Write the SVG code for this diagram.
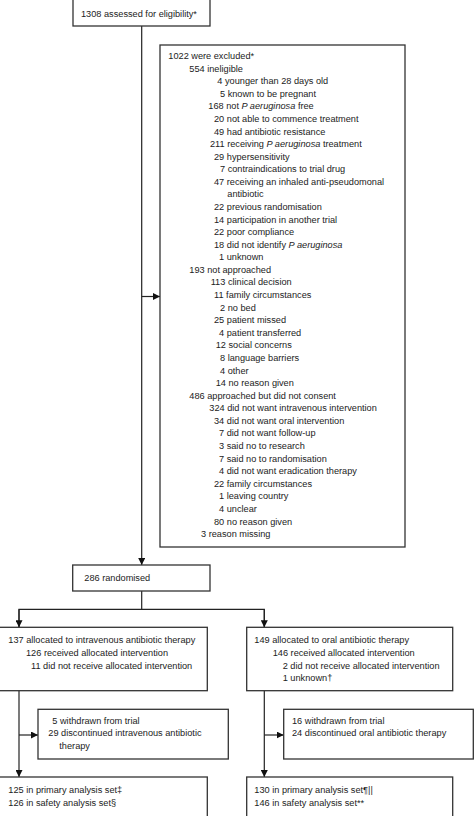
<svg xmlns="http://www.w3.org/2000/svg" width="474" height="816" viewBox="0 0 474 816">
<defs>
<marker id="ah" viewBox="0 0 10 10" refX="10" refY="5" markerWidth="7" markerHeight="7" markerUnits="userSpaceOnUse" orient="auto">
<path d="M0,0 L10,5 L0,10 z" fill="#111"/>
</marker>
<style>
.box{fill:#fff;stroke:#333;stroke-width:1.3}
.ln{fill:none;stroke:#222;stroke-width:1.2}
text{font-family:"Liberation Sans",Arial,sans-serif;font-size:9.2px;fill:#222}
.it{font-style:italic}
</style>
</defs>
<rect width="474" height="816" fill="#fff"/>
<g id="connectors">
<line class="ln" x1="141.7" y1="26" x2="141.7" y2="565" marker-end="url(#ah)"/>
<line class="ln" x1="141.7" y1="296.5" x2="160" y2="296.5" marker-end="url(#ah)"/>
<polyline class="ln" points="141.7,591 141.7,609.3"/>
<polyline class="ln" points="19,627.3 19,609.3 264.3,609.3 264.3,627.3"/>
<line class="ln" x1="19" y1="609.3" x2="19" y2="627.3" marker-end="url(#ah)"/>
<line class="ln" x1="264.3" y1="609.3" x2="264.3" y2="627.3" marker-end="url(#ah)"/>
<line class="ln" x1="19" y1="690.7" x2="19" y2="777" marker-end="url(#ah)"/>
<line class="ln" x1="19" y1="735" x2="38" y2="735" marker-end="url(#ah)"/>
<line class="ln" x1="264.3" y1="690.7" x2="264.3" y2="777" marker-end="url(#ah)"/>
<line class="ln" x1="264.3" y1="735" x2="283.7" y2="735" marker-end="url(#ah)"/>
</g>
<g id="assessed">
<rect class="box" x="73" y="-2" width="137" height="28"/>
<text x="81" y="17">1308 assessed for eligibility*</text>
</g>
<g id="excluded">
<rect class="box" x="160" y="45" width="245" height="502"/>
<text x="168.3" y="59">1022 were excluded*</text>
<text x="189.3" y="71.6">554 ineligible</text>
<text x="217.3" y="84.2">4 younger than 28 days old</text>
<text x="220" y="96.7">5 known to be pregnant</text>
<text x="208.3" y="109.3">168 not <tspan class="it">P aeruginosa</tspan> free</text>
<text x="214" y="121.9">20 not able to commence treatment</text>
<text x="214" y="134.5">49 had antibiotic resistance</text>
<text x="210" y="147.1">211 receiving <tspan class="it">P aeruginosa</tspan> treatment</text>
<text x="214" y="159.6">29 hypersensitivity</text>
<text x="220" y="172.2">7 contraindications to trial drug</text>
<text x="214" y="184.8">47 receiving an inhaled anti-pseudomonal</text>
<text x="227.3" y="197.4">antibiotic</text>
<text x="214" y="210">22 previous randomisation</text>
<text x="214" y="222.5">14 participation in another trial</text>
<text x="214" y="235.1">22 poor compliance</text>
<text x="214" y="247.7">18 did not identify <tspan class="it">P aeruginosa</tspan></text>
<text x="219" y="260.3">1 unknown</text>
<text x="189.3" y="272.9">193 not approached</text>
<text x="210.7" y="285.4">113 clinical decision</text>
<text x="214" y="298">11 family circumstances</text>
<text x="220" y="310.6">2 no bed</text>
<text x="214" y="323.2">25 patient missed</text>
<text x="219" y="335.8">4 patient transferred</text>
<text x="215.7" y="348.3">12 social concerns</text>
<text x="220" y="360.9">8 language barriers</text>
<text x="220" y="373.5">4 other</text>
<text x="215.7" y="386.1">14 no reason given</text>
<text x="189.3" y="398.7">486 approached but did not consent</text>
<text x="209.3" y="411.2">324 did not want intravenous intervention</text>
<text x="214" y="423.8">34 did not want oral intervention</text>
<text x="219" y="436.4">7 did not want follow-up</text>
<text x="219" y="449">3 said no to research</text>
<text x="219" y="461.6">7 said no to randomisation</text>
<text x="219" y="474.1">4 did not want eradication therapy</text>
<text x="214" y="486.7">22 family circumstances</text>
<text x="219" y="499.3">1 leaving country</text>
<text x="219" y="511.9">4 unclear</text>
<text x="214" y="524.5">80 no reason given</text>
<text x="201" y="537">3 reason missing</text>
</g>
<g id="randomised">
<rect class="box" x="72.7" y="565" width="137.3" height="26"/>
<text x="84.3" y="581">286 randomised</text>
</g>
<g id="iv-allocated">
<rect class="box" x="-2" y="627.3" width="209.3" height="63.4"/>
<text x="8.3" y="643">137 allocated to intravenous antibiotic therapy</text>
<text x="26" y="656">126 received allocated intervention</text>
<text x="31" y="668.5">11 did not receive allocated intervention</text>
</g>
<g id="oral-allocated">
<rect class="box" x="246.7" y="627.3" width="206" height="63.4"/>
<text x="254.3" y="643">149 allocated to oral antibiotic therapy</text>
<text x="272.7" y="656">146 received allocated intervention</text>
<text x="282.7" y="668.5">2 did not receive allocated intervention</text>
<text x="282.7" y="681">1 unknown†</text>
</g>
<g id="iv-withdrawn">
<rect class="box" x="38" y="709.3" width="190.3" height="49.7"/>
<text x="52.3" y="723.5">5 withdrawn from trial</text>
<text x="48.3" y="736.2">29 discontinued intravenous antibiotic</text>
<text x="59.3" y="749">therapy</text>
</g>
<g id="oral-withdrawn">
<rect class="box" x="283.7" y="709.3" width="189.6" height="49.7"/>
<text x="292" y="723.5">16 withdrawn from trial</text>
<text x="292" y="736.2">24 discontinued oral antibiotic therapy</text>
</g>
<g id="iv-analysis">
<rect class="box" x="-2" y="777" width="209.3" height="42"/>
<text x="8.3" y="792.8">125 in primary analysis set‡</text>
<text x="8.3" y="805.7">126 in safety analysis set§</text>
</g>
<g id="oral-analysis">
<rect class="box" x="246.7" y="777" width="206" height="42"/>
<text x="254.3" y="792.8">130 in primary analysis set¶||</text>
<text x="254.3" y="805.7">146 in safety analysis set**</text>
</g>
</svg>
